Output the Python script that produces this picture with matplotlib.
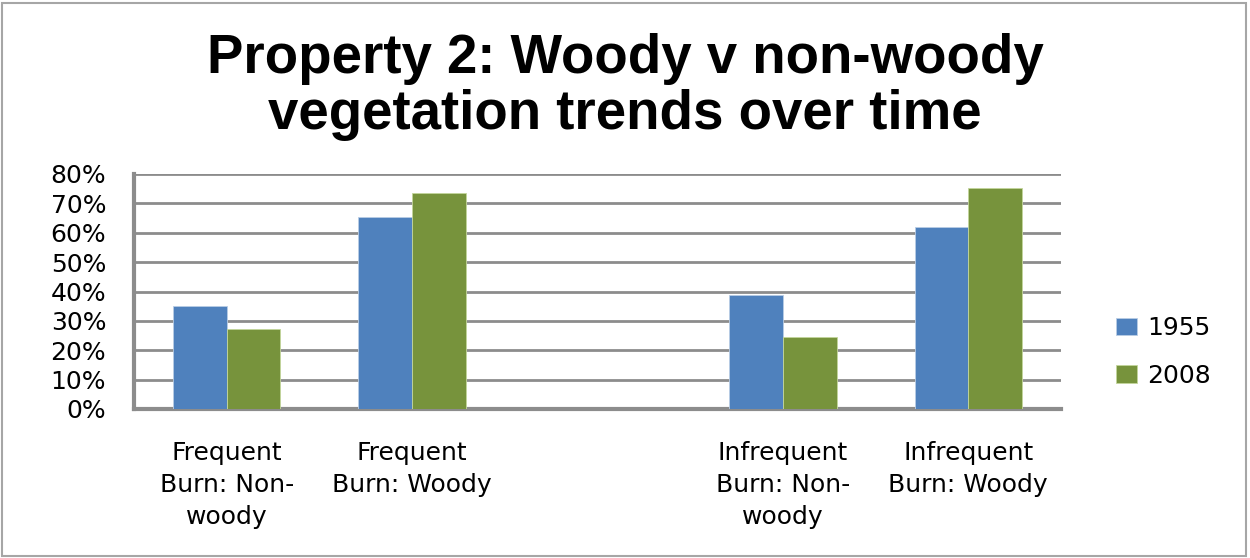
import numpy as np
import matplotlib.pyplot as plt
from matplotlib.patches import Rectangle

categories = ["Frequent\nBurn: Non-\nwoody", "Frequent\nBurn: Woody", "",
              "Infrequent\nBurn: Non-\nwoody", "Infrequent\nBurn: Woody"]
years = ["1955", "2008"]
share_1955 = [0.351, 0.653, np.nan, 0.387, 0.618]
share_2008 = [0.271, 0.735, np.nan, 0.244, 0.754]

blue = "#4f81bd"
green = "#77933c"
grid_gray = "#8c8c8c"

plt.rcParams['font.family'] = ['DejaVu Sans']

fig = plt.figure(figsize=(12.5, 5.58), dpi=100)
ax = fig.add_axes([134/1250, 1 - 409/558, (1061 - 134)/1250, (409 - 174)/558])

x = np.arange(len(categories))
w = 0.29
ax.bar(x - w/2, share_1955, w, color=blue, edgecolor="#b9cde5", linewidth=0.6, label=years[0], zorder=3)
ax.bar(x + w/2, share_2008, w, color=green, edgecolor="#c3d69b", linewidth=0.6, label=years[1], zorder=3)

ax.set_xlim(-0.5, len(categories) - 0.5)
ax.set_ylim(0, 0.8)
ticks = np.arange(0, 0.81, 0.1)
ax.set_yticks(ticks)
ax.set_yticklabels([f"{int(round(v*100))}%" for v in ticks], fontsize=18)
ax.yaxis.grid(True, color=grid_gray, linewidth=2, zorder=0)
ax.tick_params(axis='y', length=0, pad=20)
ax.set_xticks([])
for xi, lab in zip(x, categories):
    ax.text(xi, -0.11, lab, ha='center', va='top', fontsize=18, linespacing=1.4)

for s in ['top', 'right']:
    ax.spines[s].set_visible(False)
for s in ['left', 'bottom']:
    ax.spines[s].set_color(grid_gray)
    ax.spines[s].set_linewidth(3)

title_font = dict(ha='center', va='baseline', fontsize=39.3, fontweight='bold',
                  family='Liberation Sans')
fig.text(0.5, 1 - 73/558, "Property 2: Woody v non-woody", **title_font)
fig.text(0.5, 1 - 129/558, "vegetation trends over time", **title_font)

fig.legend(loc='center left', bbox_to_anchor=(1093/1250, 1 - 352/558), frameon=False,
           fontsize=18, handlelength=0.85, handleheight=0.7, labelspacing=0.95,
           handletextpad=0.4)

fig.patches.append(Rectangle((2/1250, 2/558), 1244/1250, 553/558, transform=fig.transFigure,
                             fill=False, edgecolor="#a6a6a6", linewidth=1.5))

fig.savefig("out.png", dpi=100)
